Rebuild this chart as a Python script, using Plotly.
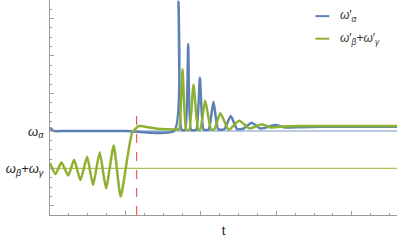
import plotly.graph_objects as go

# ---- data (t in major-tick units, value: 0 = ω_β+ω_γ, 1 = ω_α) ----
blue_t = [0, 0.05, 0.2, 1.0, 1.65, 1.704, 1.745, 1.792, 1.832, 1.872, 1.938, 1.987, 2.037,
          2.103, 2.167, 2.229, 2.308, 2.397, 2.479, 2.56, 2.675, 2.78, 2.845, 2.983, 3.122,
          3.3, 3.6, 4.0, 4.6]
blue_v = [1.09, 1.0, 1.0, 1.0, 1.01, 4.45, 1.03, 1.03, 3.32, 1.03, 1.03, 2.42, 1.035,
          1.04, 1.78, 1.045, 1.045, 1.40, 1.05, 1.06, 1.22, 1.07, 1.08, 1.16, 1.09,
          1.10, 1.11, 1.11, 1.11]

green_t = [0, 0.073, 0.152, 0.241, 0.32, 0.403, 0.492, 0.571, 0.659, 0.743, 0.844, 0.937,
           1.087, 1.175, 1.329, 1.462, 1.70, 1.713, 1.757, 1.806, 1.845, 1.902, 1.964,
           1.991, 2.057, 2.136, 2.176, 2.259, 2.361, 2.388, 2.507, 2.639, 2.679, 2.807,
           2.93, 3.1, 3.3, 4.6]
green_v = [0.14, -0.15, 0.165, -0.19, 0.23, -0.31, 0.31, -0.44, 0.43, -0.53, 0.61, -0.75,
           0.94, 1.13, 1.09, 1.05, 1.04, 1.04, 2.645, 1.03, 1.03, 2.23, 1.035,
           1.035, 1.81, 1.04, 1.04, 1.47, 1.045, 1.05, 1.27, 1.07, 1.08, 1.18,
           1.09, 1.12, 1.13, 1.13]

level_alpha = 1.0
level_beta_gamma = 0.0
quench_t = 1.148
quench_top = 1.48

x_range = [0, 4.6]
y_range = [-1.24, 4.49]
y_tickvals = [-1, 0, 1, 2, 3, 4]
y_ticktext = ["", "<i>ω</i><sub><i>β</i></sub>+<i>ω</i><sub><i>γ</i></sub>",
              "<i>ω</i><sub><i>α</i></sub>", "", "", ""]
x_tickvals = [0, 1, 2, 3, 4]
legend_labels = ["<i>ω</i>′<sub><i>α</i></sub>",
                 "<i>ω</i>′<sub><i>β</i></sub>+<i>ω</i>′<sub><i>γ</i></sub>"]

BLUE = "#5E81B5"
GREEN = "#8FB131"
LIGHT_BLUE = "#B9CBE3"
LIGHT_GREEN = "#A7C65A"
RED = "#F05A5A"
AXIS = "#9A9A9A"
FONT = "Liberation Sans"

fig = go.Figure()

# reference levels
fig.add_trace(go.Scatter(x=x_range, y=[level_alpha] * 2, mode="lines",
                         line=dict(color=LIGHT_BLUE, width=2), hoverinfo="skip", showlegend=False))
fig.add_trace(go.Scatter(x=x_range, y=[level_beta_gamma] * 2, mode="lines",
                         line=dict(color=LIGHT_GREEN, width=1.2), hoverinfo="skip", showlegend=False))
# quench line
fig.add_trace(go.Scatter(x=[quench_t, quench_t], y=[y_range[0], quench_top], mode="lines",
                         line=dict(color=RED, width=1.2, dash="dash"), showlegend=False))

fig.add_trace(go.Scatter(x=blue_t, y=blue_v, mode="lines",
                         line=dict(color=BLUE, width=2.5, shape="spline", smoothing=0.5),
                         showlegend=False))
fig.add_trace(go.Scatter(x=green_t, y=green_v, mode="lines",
                         line=dict(color=GREEN, width=2.5, shape="spline", smoothing=0.5),
                         showlegend=False))

# legend (manual)
for i, (lab, col) in enumerate(zip(legend_labels, [BLUE, GREEN])):
    yy = 0.925 - i * 0.105
    fig.add_shape(type="line", xref="paper", yref="paper", x0=0.765, x1=0.805, y0=yy, y1=yy,
                  line=dict(color=col, width=2))
    fig.add_annotation(xref="paper", yref="paper", x=0.83, y=yy, text=lab, showarrow=False,
                       xanchor="left", yanchor="middle",
                       font=dict(family=FONT, size=12, color="#333"))

fig.update_layout(
    width=399, height=244,
    margin=dict(l=50, r=2, t=0, b=29),
    paper_bgcolor="white", plot_bgcolor="white",
    font=dict(family=FONT, size=12, color="#222"),
    showlegend=False,
)
fig.update_xaxes(range=x_range, showgrid=False, zeroline=False, showline=True, linecolor=AXIS,
                 linewidth=1, ticks="inside", tickvals=x_tickvals, ticktext=[""] * len(x_tickvals),
                 ticklen=4, tickcolor=AXIS, automargin=False,
                 minor=dict(dtick=0.25, ticks="inside", ticklen=2, tickcolor=AXIS, showgrid=False),
                 title=dict(text="t", font=dict(family=FONT, size=13), standoff=8))
fig.update_yaxes(range=y_range, showgrid=False, zeroline=False, showline=True, linecolor=AXIS,
                 linewidth=1, ticks="inside", tickvals=y_tickvals, ticktext=y_ticktext,
                 ticklen=4, tickcolor=AXIS, tickfont=dict(family=FONT, size=13, color="#222"),
                 automargin=False, ticklabelstandoff=3,
                 minor=dict(dtick=0.25, ticks="inside", ticklen=2, tickcolor=AXIS, showgrid=False))

fig.write_html("out.html", config={"displayModeBar": False},
               post_script="document.body.style.margin='0';document.body.style.padding='0';")
